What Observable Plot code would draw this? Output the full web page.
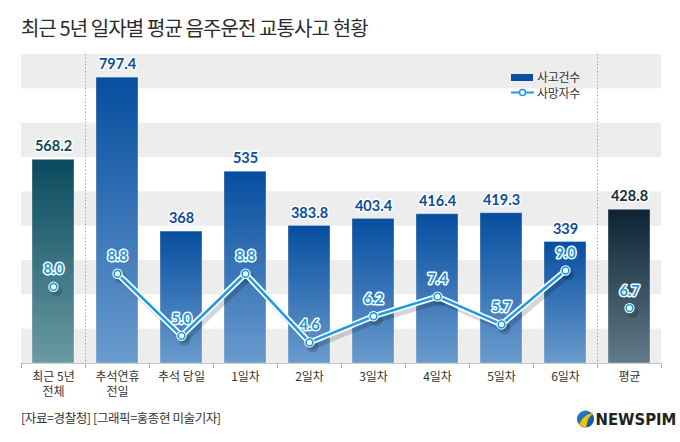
<!DOCTYPE html>
<html>
<head>
<meta charset="utf-8">
<script src="https://cdn.jsdelivr.net/npm/d3@7"></script>
<script src="https://cdn.jsdelivr.net/npm/@observablehq/plot@0.6"></script>
<style>
  html, body { margin: 0; padding: 0; background: #fff; }
  #wrap { position: relative; width: 680px; height: 442px; overflow: hidden; font-family: "Noto Sans CJK KR", sans-serif; }
  #title { height: 42px; padding-top: 8px; padding-left: 21px; line-height: 40px; font-size: 20px; letter-spacing: -0.9px; color: #2b2b2b; }
  #chart svg { display: block; }
  #footer { position: relative; height: 24px; }
  #source { position: absolute; left: 21px; top: 0; line-height: 24px; font-size: 12.5px; letter-spacing: -0.4px; color: #333; }
  #logo { position: absolute; left: 576px; top: 2px; }
  .legend { position: absolute; font-size: 12px; color: #333; letter-spacing: -0.3px; }
</style>
</head>
<body>
<div id="wrap">
  <div id="title">최근 5년 일자별 평균 음주운전 교통사고 현황</div>
  <div id="chart"></div>
  <div id="footer">
    <div id="source">[자료=경찰청] [그래픽=홍종현 미술기자]</div>
    <svg id="logo" width="100" height="22" viewBox="0 0 100 22">
      <defs>
        <linearGradient id="logoG" x1="0" y1="0" x2="1" y2="1">
          <stop offset="0" stop-color="#2a86d6"/>
          <stop offset="1" stop-color="#0b4f9c"/>
        </linearGradient>
      </defs>
      <circle cx="9.5" cy="11" r="8.6" fill="url(#logoG)"/>
      <path d="M3.2,16.5 C6,10 10,6 17.5,5 C13,8.5 11,12 10.5,19.3 C7.5,19.3 5,18.3 3.2,16.5 Z" fill="#f5c400"/>
      <text x="19.5" y="16.8" font-family="Liberation Sans Narrow, DejaVu Sans Condensed, sans-serif" font-weight="bold" font-size="16.5" fill="#222">NEWSPIM</text>
    </svg>
  </div>
  <div class="legend" style="left:511px; top:74px; width:22px; height:7px; background:#0a4fa0;"></div>
  <div class="legend" style="left:537px; top:68px; line-height:18px;">사고건수</div>
  <svg class="legend" style="left:510px; top:87px;" width="25" height="11">
    <line x1="1" y1="5.5" x2="24" y2="5.5" stroke="#1f9be0" stroke-width="2"/>
    <circle cx="12.5" cy="5.5" r="3" fill="#fff" stroke="#1f9be0" stroke-width="1.5"/>
  </svg>
  <div class="legend" style="left:537px; top:84px; line-height:18px;">사망자수</div>
</div>
<script>
// ---- data ----
const categories = ["최근 5년\n전체", "추석연휴\n전일", "추석 당일", "1일차", "2일차", "3일차", "4일차", "5일차", "6일차", "평균"];
const accidents = [568.2, 797.4, 368, 535, 383.8, 403.4, 416.4, 419.3, 339, 428.8];
const deaths = [8.0, 8.8, 5.0, 8.8, 4.6, 6.2, 7.4, 5.7, 9.0, 6.7];
const accidentLabels = ["568.2", "797.4", "368", "535", "383.8", "403.4", "416.4", "419.3", "339", "428.8"];
const deathLabels = ["8.0", "8.8", "5.0", "8.8", "4.6", "6.2", "7.4", "5.7", "9.0", "6.7"];
const groups = ["five", "day", "day", "day", "day", "day", "day", "day", "day", "avg"];
const lineMembers = [false, true, true, true, true, true, true, true, true, false];

// ---- build table ----
const data = categories.map((c, i) => ({
  cat: c, acc: accidents[i], dth: deaths[i], accLabel: accidentLabels[i],
  dthLabel: deathLabels[i], group: groups[i], inLine: lineMembers[i]
}));

const yMax = 862;
// secondary axis for deaths mapped onto the primary (accidents) scale
const deathToY = d3.scaleLinear().domain([3.31, 22.21]).range([0, yMax]);
data.forEach(d => d.dy = deathToY(d.dth));
const lineData = data.filter(d => d.inLine);

const nBands = 9;
const bands = d3.range(nBands).map(i => ({y1: i * yMax / nBands, y2: (i + 1) * yMax / nBands, gray: i % 2 === 0}));

const half = 32;

const defs = () => {
  const g = d3.create("svg:defs");
  const mk = (id, top, bottom) => {
    const lg = g.append("linearGradient").attr("id", id).attr("x1", 0).attr("y1", 0).attr("x2", 0).attr("y2", 1);
    lg.append("stop").attr("offset", 0).attr("stop-color", top);
    lg.append("stop").attr("offset", 1).attr("stop-color", bottom);
  };
  mk("gDay", "#064e9f", "#6a9bcd");
  mk("gFive", "#0a4a5e", "#6a9ba3");
  mk("gAvg", "#0c2435", "#627b89");
  return g.node();
};

const chart = Plot.plot({
  width: 680,
  height: 356,
  marginTop: 4,
  marginBottom: 43,
  marginLeft: 21,
  marginRight: 19,
  style: {fontFamily: "'Noto Sans CJK KR', sans-serif", background: "transparent"},
  x: {domain: categories, paddingInner: 0.34, paddingOuter: 0.17, axis: null},
  y: {domain: [0, yMax], axis: null},
  marks: [
    defs,
    Plot.rectY(bands.filter(b => b.gray), {y1: "y1", y2: "y2", fill: "#ededed"}),
    Plot.ruleX([categories[1], categories[9]], {dx: -half, y1: -14, y2: yMax, stroke: "#9a9a9a", strokeDasharray: "1.2,2.2", strokeWidth: 1}),
    Plot.ruleY([0], {stroke: "#c4c4c4"}),
    Plot.ruleX(categories, {dx: -half, y1: 0, y2: -14, stroke: "#b0b0b0"}),
    Plot.ruleX([categories[9]], {dx: half, y1: 0, y2: -14, stroke: "#b0b0b0"}),
    Plot.barY(data, {filter: d => d.group === "day", x: "cat", y: "acc", fill: "url(#gDay)", stroke: "#ffffff", strokeOpacity: 0.35}),
    Plot.barY(data, {filter: d => d.group === "five", x: "cat", y: "acc", fill: "url(#gFive)", stroke: "#ffffff", strokeOpacity: 0.35}),
    Plot.barY(data, {filter: d => d.group === "avg", x: "cat", y: "acc", fill: "url(#gAvg)", stroke: "#ffffff", strokeOpacity: 0.35}),
    // bar value labels
    Plot.text(data, {x: "cat", y: "acc", text: "accLabel", dy: -13, fontFamily: "Lato, sans-serif", fontWeight: "bold", fontSize: 14.5,
      fill: d => d.group === "day" ? "#0b4c9c" : d.group === "five" ? "#0c4a5c" : "#12303f", stroke: "white", strokeWidth: 3}),
    // line shadow
    Plot.line(lineData, {x: "cat", y: "dy", stroke: "#000", strokeOpacity: 0.16, strokeWidth: 6, dx: 3, dy: 4}),
    Plot.dot(data, {x: "cat", y: "dy", r: 6, fill: "#000", fillOpacity: 0.16, dx: 3, dy: 4}),
    // line
    Plot.line(lineData, {x: "cat", y: "dy", stroke: "white", strokeWidth: 6}),
    Plot.line(lineData, {x: "cat", y: "dy", stroke: "#1f9be0", strokeWidth: 2.5}),
    Plot.dot(data, {x: "cat", y: "dy", r: 4.2, fill: "white", stroke: "white", strokeWidth: 2}),
    Plot.dot(data, {x: "cat", y: "dy", r: 3.4, fill: "white", stroke: "#1f9be0", strokeWidth: 1.6}),
    // death labels
    Plot.text(data, {x: "cat", y: "dy", text: "dthLabel", dy: -17, fontFamily: "Lato, sans-serif", fontWeight: "bold", fontSize: 14.5,
      fill: "#1d96dc", stroke: "white", strokeWidth: 3}),
    // category labels
    Plot.text(data, {x: "cat", y: 0, text: "cat", dy: 6, lineAnchor: "top", fontSize: 12, lineHeight: 1.3, fill: "#333"})
  ]
});
document.getElementById("chart").appendChild(chart);
</script>
</body>
</html>
